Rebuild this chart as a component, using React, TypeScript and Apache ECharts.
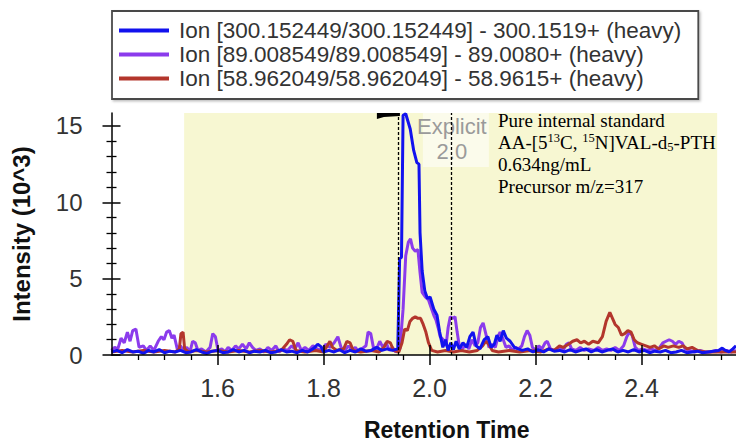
import React, { useEffect, useRef } from 'react';
import * as echarts from 'echarts';

const seriesNames = [
  'Ion [300.152449/300.152449] - 300.1519+ (heavy)',
  'Ion [89.008549/89.008549] - 89.0080+ (heavy)',
  'Ion [58.962049/58.962049] - 58.9615+ (heavy)',
];
const seriesColors = ['#1212ee', '#8b3bec', '#b3362c'];

const blueTrace: number[][] = [
  [1.400,0.2],[1.410,0.3],[1.420,0.15],[1.430,0.35],[1.440,0.2],[1.450,0.25],[1.460,0.1],[1.470,0.3],[1.480,0.2],[1.490,0.35],
  [1.500,0.15],[1.510,0.25],[1.520,0.2],[1.530,0.3],[1.540,0.15],[1.550,0.2],[1.560,0.35],[1.570,0.2],[1.580,0.1],[1.590,0.25],
  [1.600,0.3],[1.610,0.15],[1.620,0.2],[1.630,0.35],[1.640,0.2],[1.650,0.3],[1.660,0.15],[1.670,0.25],[1.680,0.2],[1.690,0.3],
  [1.700,0.15],[1.710,0.2],[1.720,0.35],[1.730,0.2],[1.740,0.25],[1.750,0.15],[1.760,0.3],[1.770,0.2],[1.782,0.45],[1.789,0.7],
  [1.795,0.55],[1.800,0.2],[1.810,0.3],[1.820,0.2],[1.830,0.35],[1.840,0.15],[1.850,0.3],[1.860,0.2],[1.870,0.4],[1.880,0.25],
  [1.890,0.3],[1.900,0.5],[1.910,0.3],[1.920,0.4],[1.930,0.3],[1.940,0.4],[1.9435,6.3],[1.947,6.4],[1.950,15.7],[1.955,15.8],
  [1.9635,14.8],[1.970,13.4],[1.976,12.6],[1.980,12.5],[1.982,8.0],[1.986,5.5],[1.991,4.2],[1.996,3.7],[2.001,3.8],[2.008,3.0],
  [2.014,2.6],[2.019,1.5],[2.025,0.5],[2.030,1.0],[2.035,0.3],[2.040,0.8],[2.045,0.35],[2.050,0.9],[2.056,0.4],[2.063,0.8],
  [2.070,0.5],[2.076,1.2],[2.082,1.5],[2.088,0.6],[2.095,0.4],[2.103,1.0],[2.110,1.2],[2.116,0.5],[2.122,0.7],[2.127,1.3],
  [2.133,0.9],[2.139,1.6],[2.145,1.1],[2.152,0.9],[2.160,0.5],[2.167,0.4],[2.175,0.3],[2.185,0.4],[2.195,0.2],[2.205,0.35],
  [2.215,0.2],[2.225,0.4],[2.235,0.25],[2.245,0.3],[2.255,0.2],[2.265,0.35],[2.275,0.2],[2.285,0.3],[2.295,0.4],[2.305,0.2],
  [2.315,0.35],[2.325,0.2],[2.335,0.3],[2.345,0.4],[2.355,0.2],[2.365,0.3],[2.375,0.2],[2.385,0.35],[2.395,0.2],[2.405,0.3],
  [2.415,0.15],[2.425,0.25],[2.435,0.2],[2.445,0.3],[2.455,0.15],[2.465,0.2],[2.475,0.3],[2.485,0.15],[2.495,0.2],[2.505,0.25],
  [2.515,0.15],[2.525,0.2],[2.535,0.25],[2.545,0.3],[2.552,0.45],[2.558,0.3],[2.565,0.2],[2.572,0.4],[2.578,0.6],
];

const purpleTrace: number[][] = [
  [1.400,0.3],[1.406,0.5],[1.412,0.4],[1.418,1.1],[1.424,0.8],[1.430,1.5],[1.435,0.9],[1.440,1.6],[1.446,1.7],[1.452,0.5],
  [1.460,0.6],[1.466,0.3],[1.473,0.6],[1.480,0.3],[1.488,0.9],[1.494,1.2],[1.499,1.0],[1.504,1.5],[1.509,1.6],[1.514,1.1],
  [1.518,1.3],[1.524,0.4],[1.530,0.6],[1.536,0.3],[1.542,0.5],[1.548,0.2],[1.553,0.9],[1.558,0.8],[1.563,0.3],[1.570,0.4],
  [1.578,0.2],[1.586,0.5],[1.591,1.4],[1.596,1.2],[1.601,0.3],[1.608,0.4],[1.614,0.2],[1.620,0.5],[1.627,0.3],[1.634,0.6],
  [1.640,0.4],[1.647,0.7],[1.654,0.4],[1.660,0.8],[1.666,0.5],[1.672,0.3],[1.680,0.4],[1.688,0.2],[1.695,0.5],[1.702,0.3],
  [1.710,0.6],[1.716,0.2],[1.724,0.4],[1.732,0.3],[1.740,0.6],[1.746,0.4],[1.752,0.8],[1.758,0.3],[1.765,0.5],[1.772,0.3],
  [1.780,0.6],[1.788,0.4],[1.796,0.3],[1.804,0.7],[1.812,0.5],[1.820,0.8],[1.827,1.2],[1.833,0.5],[1.840,0.3],[1.847,0.6],
  [1.854,0.3],[1.860,0.5],[1.866,0.2],[1.872,0.4],[1.880,0.6],[1.884,1.5],[1.889,1.4],[1.894,0.5],[1.900,0.4],[1.906,0.9],
  [1.912,0.5],[1.918,0.8],[1.924,0.3],[1.930,0.5],[1.936,0.2],[1.944,0.4],[1.950,3.0],[1.955,6.5],[1.960,7.4],[1.964,7.6],
  [1.968,7.0],[1.973,6.8],[1.978,6.9],[1.982,5.4],[1.986,4.1],[1.992,3.8],[1.998,3.6],[2.004,3.0],[2.008,2.6],[2.012,2.3],
  [2.016,1.8],[2.020,1.2],[2.026,1.0],[2.031,0.6],[2.035,1.8],[2.039,2.5],[2.044,2.4],[2.048,2.5],[2.052,1.5],[2.056,0.6],
  [2.062,0.4],[2.068,0.7],[2.074,0.4],[2.080,1.0],[2.086,0.6],[2.091,0.8],[2.096,1.8],[2.101,2.1],[2.106,1.4],[2.112,0.5],
  [2.118,0.7],[2.124,0.5],[2.129,1.2],[2.133,1.5],[2.138,1.1],[2.144,0.5],[2.150,0.6],[2.156,0.3],[2.162,0.5],[2.168,0.4],
  [2.174,0.6],[2.179,1.2],[2.184,1.6],[2.189,1.3],[2.194,0.5],[2.200,0.3],[2.206,0.6],[2.212,0.4],[2.218,0.8],[2.222,0.9],
  [2.228,0.4],[2.236,0.3],[2.244,0.5],[2.252,0.3],[2.258,0.7],[2.263,0.8],[2.268,0.4],[2.276,0.3],[2.284,0.5],[2.292,0.3],
  [2.300,0.4],[2.310,0.3],[2.318,0.5],[2.326,0.3],[2.334,0.4],[2.342,0.3],[2.350,0.5],[2.358,0.3],[2.366,0.6],[2.372,1.2],
  [2.377,1.5],[2.382,1.3],[2.388,0.5],[2.394,0.3],[2.402,0.4],[2.410,0.3],[2.418,0.4],[2.426,0.3],[2.434,0.5],[2.440,0.8],
  [2.446,0.9],[2.452,1.0],[2.458,0.9],[2.464,0.7],[2.470,0.9],[2.476,0.8],[2.482,0.4],[2.490,0.3],[2.500,0.2],[2.510,0.3],
  [2.520,0.2],[2.530,0.2],[2.540,0.3],[2.550,0.2],[2.560,0.3],[2.570,0.2],[2.578,0.3],
];

const redTrace: number[][] = [
  [1.400,0.2],[1.420,0.3],[1.440,0.2],[1.460,0.3],[1.480,0.2],[1.500,0.3],[1.520,0.2],[1.528,0.4],[1.531,1.4],[1.535,1.5],
  [1.538,0.4],[1.545,0.2],[1.560,0.3],[1.580,0.2],[1.600,0.3],[1.620,0.2],[1.640,0.3],[1.660,0.2],[1.680,0.3],[1.700,0.2],
  [1.720,0.3],[1.730,0.7],[1.736,1.0],[1.742,0.9],[1.748,0.3],[1.765,0.2],[1.785,0.3],[1.800,0.2],[1.807,0.6],[1.812,0.9],
  [1.817,0.5],[1.825,0.3],[1.838,0.4],[1.844,0.9],[1.850,0.8],[1.856,0.3],[1.870,0.2],[1.890,0.3],[1.905,0.2],[1.914,0.5],
  [1.920,0.9],[1.926,0.8],[1.932,0.3],[1.942,0.2],[1.948,0.8],[1.953,1.7],[1.958,1.6],[1.963,2.2],[1.968,2.4],[1.973,2.5],
  [1.978,2.4],[1.983,2.4],[1.988,2.0],[1.993,1.5],[1.998,0.8],[2.004,0.3],[2.015,0.2],[2.030,0.3],[2.045,0.2],[2.060,0.3],
  [2.075,0.2],[2.090,0.3],[2.100,0.6],[2.106,0.9],[2.112,0.7],[2.118,0.3],[2.130,0.2],[2.150,0.3],[2.170,0.2],[2.190,0.3],
  [2.210,0.2],[2.225,0.4],[2.235,0.3],[2.245,0.6],[2.252,0.5],[2.262,0.7],[2.270,0.9],[2.278,1.0],[2.285,0.8],[2.292,0.9],
  [2.300,0.7],[2.308,0.9],[2.318,0.8],[2.326,1.2],[2.333,2.2],[2.340,2.8],[2.345,2.4],[2.350,2.0],[2.356,1.8],[2.362,1.3],
  [2.368,1.4],[2.374,1.6],[2.380,1.5],[2.386,1.0],[2.392,0.8],[2.400,0.7],[2.408,0.6],[2.416,0.5],[2.424,0.6],[2.432,0.4],
  [2.442,0.6],[2.450,0.5],[2.460,0.6],[2.470,0.5],[2.478,0.6],[2.486,0.4],[2.495,0.5],[2.505,0.3],[2.520,0.2],[2.540,0.2],
  [2.560,0.2],[2.578,0.2],
];

const xMin = 1.4;
const xMax = 2.578;
const yMin = 0;
const yMax = 15.85;
const xMajorTicks = [1.6, 1.8, 2.0, 2.2, 2.4];
const xMinorTicks = [1.45, 1.5, 1.55, 1.65, 1.7, 1.75, 1.85, 1.9, 1.95, 2.05, 2.1, 2.15, 2.25, 2.3, 2.35, 2.45, 2.5, 2.55];
const yMajorTicks = [0, 5, 10, 15];
const yMinorTicks = [1, 2, 3, 4, 6, 7, 8, 9, 11, 12, 13, 14];
const integrationWindow = [1.537, 2.5425];
const peakBoundaries = [1.944, 2.042];
const annotationLines = [
  '{n|Pure internal standard}',
  '{n|AA-[5}{sup|13}{n|C, }{sup|15}{n|N]VAL-d}{sub|5}{n|-PTH}',
  '{n|0.634ng/mL}',
  '{n|Precursor m/z=317}',
];

const FONT = "'Liberation Sans', Arial, sans-serif";
const SERIF = "'Liberation Serif', 'Times New Roman', serif";
const AX = '#000';

function xAxisBase(extra: any) {
  return {
    type: 'value', min: xMin, max: xMax, position: 'bottom', z: 10,
    splitLine: { show: false },
    axisLine: { show: false, onZero: false },
    axisLabel: { show: false },
    ...extra,
  };
}
function yAxisBase(extra: any) {
  return {
    type: 'value', min: yMin, max: yMax, position: 'left', z: 10,
    splitLine: { show: false },
    axisLine: { show: false, onZero: false },
    axisLabel: { show: false },
    ...extra,
  };
}

export default function App() {
  const ref = useRef<HTMLDivElement>(null);
  useEffect(() => {
    const chart = echarts.init(ref.current!, null, { renderer: 'svg' });
    const traces = [blueTrace, purpleTrace, redTrace];
    const zs = [4, 2, 3];
    const option: any = {
      animation: false,
      backgroundColor: '#fff',
      grid: { left: 111.5, right: 0, top: 113, bottom: 90, containLabel: false },
      legend: {
        data: seriesNames,
        orient: 'vertical',
        left: 112,
        top: 11,
        padding: [8, 17, 9, 7],
        itemGap: 1,
        itemWidth: 50,
        itemHeight: 4,
        icon: 'rect',
        borderColor: '#4a4a4a',
        borderWidth: 1.8,
        backgroundColor: '#fff',
        shadowColor: 'rgba(0,0,0,0.25)',
        shadowBlur: 2,
        shadowOffsetX: 1.5,
        shadowOffsetY: 1.5,
        textStyle: { fontSize: 22.5, lineHeight: 23, color: '#333', fontFamily: FONT, padding: [0, 0, 0, 5] },
      },
      xAxis: [
        xAxisBase({
          axisLine: { show: true, onZero: false, lineStyle: { color: AX, width: 1.5 } },
          axisTick: { show: true, inside: false, length: 10, customValues: xMajorTicks, lineStyle: { color: AX, width: 1.5 } },
          axisLabel: { show: true, customValues: xMajorTicks, formatter: (v: number) => v.toFixed(1), fontSize: 25, color: '#333', margin: 20, fontFamily: FONT },
          name: 'Retention Time', nameLocation: 'middle', nameGap: 63,
          nameTextStyle: { fontSize: 23, fontWeight: 'bold', color: '#111', fontFamily: FONT, padding: [0, 0, 0, 46] },
        }),
        xAxisBase({ axisTick: { show: true, inside: true, length: 10, customValues: xMajorTicks, lineStyle: { color: AX, width: 1.5 } } }),
        xAxisBase({ axisTick: { show: true, inside: false, length: 5, customValues: xMinorTicks, lineStyle: { color: AX, width: 1.3 } } }),
      ],
      yAxis: [
        yAxisBase({
          axisLine: { show: true, onZero: false, lineStyle: { color: AX, width: 1.5 } },
          axisTick: { show: true, inside: false, length: 9, customValues: yMajorTicks, lineStyle: { color: AX, width: 1.5 } },
          axisLabel: { show: true, customValues: yMajorTicks, fontSize: 24, color: '#333', margin: 29, fontFamily: FONT },
          name: 'Intensity (10^3)', nameLocation: 'middle', nameGap: 78,
          nameTextStyle: { fontSize: 24, fontWeight: 'bold', color: '#111', fontFamily: FONT },
        }),
        yAxisBase({ axisTick: { show: true, inside: true, length: 9, customValues: yMajorTicks, lineStyle: { color: AX, width: 1.5 } } }),
        yAxisBase({ axisTick: { show: true, inside: false, length: 5, customValues: yMinorTicks, lineStyle: { color: AX, width: 1.3 } } }),
        yAxisBase({ axisTick: { show: true, inside: true, length: 5, customValues: yMinorTicks, lineStyle: { color: AX, width: 1.3 } } }),
      ],
      series: [
        ...seriesNames.map((name, i) => ({
          name,
          type: 'line',
          xAxisIndex: 0,
          yAxisIndex: 0,
          data: traces[i],
          symbol: 'none',
          showSymbol: false,
          z: zs[i],
          color: seriesColors[i],
          lineStyle: { color: seriesColors[i], width: 3 },
        })),
        {
          name: 'window',
          type: 'line',
          data: [[xMin, 0]],
          symbol: 'none',
          lineStyle: { opacity: 0 },
          z: 1,
          markArea: {
            silent: true,
            itemStyle: { color: '#f7f7d2' },
            data: [[{ xAxis: integrationWindow[0] }, { xAxis: integrationWindow[1] }]],
          },
          markPoint: {
            z: 5,
            silent: true,
            data: [{
              coord: [peakBoundaries[1], yMax],
              symbol: 'rect',
              symbolSize: [66, 54],
              symbolOffset: [4, 27],
              itemStyle: { color: 'rgba(255,255,255,0.55)' },
              label: {
                show: true, position: 'inside', formatter: 'Explicit\n2.0', offset: [-4, -1],
                fontSize: 22, lineHeight: 25, color: '#9a9a9a', fontFamily: FONT,
              },
            }],
          },
        },
        {
          name: 'boundaries',
          type: 'line',
          data: [[xMin, 0]],
          symbol: 'none',
          lineStyle: { opacity: 0 },
          z: 6,
          markLine: {
            z: 6,
            silent: true,
            symbol: ['none', 'none'],
            label: { show: false },
            lineStyle: { color: '#000', width: 1.3, type: [3, 2] },
            data: peakBoundaries.map((v) => ({ xAxis: v })),
          },
          markPoint: {
            z: 6,
            silent: true,
            data: [{
              coord: [peakBoundaries[0], yMax],
              symbol: 'path://M0,0 L23,0 L23,3 L7,4 L0,6 Z',
              symbolKeepAspect: false,
              symbolSize: [23, 6],
              symbolOffset: [-11.5, 3],
              itemStyle: { color: '#000' },
              label: { show: false },
            }],
          },
        },
      ],
      graphic: [
        {
          type: 'text',
          left: 498,
          top: 111,
          z: 20,
          style: {
            text: annotationLines.join('\n'),
            fill: '#000',
            rich: {
              n: { fontFamily: SERIF, fontSize: 19, lineHeight: 22, fill: '#000' },
              sup: { fontFamily: SERIF, fontSize: 12.5, lineHeight: 22, verticalAlign: 'top', fill: '#000' },
              sub: { fontFamily: SERIF, fontSize: 12.5, lineHeight: 22, verticalAlign: 'bottom', fill: '#000' },
            },
          },
        },
      ],
    };
    chart.setOption(option);
    return () => chart.dispose();
  }, []);
  return <div ref={ref} style={{ position: 'fixed', left: 0, top: 0, width: 736, height: 446 }} />;
}
